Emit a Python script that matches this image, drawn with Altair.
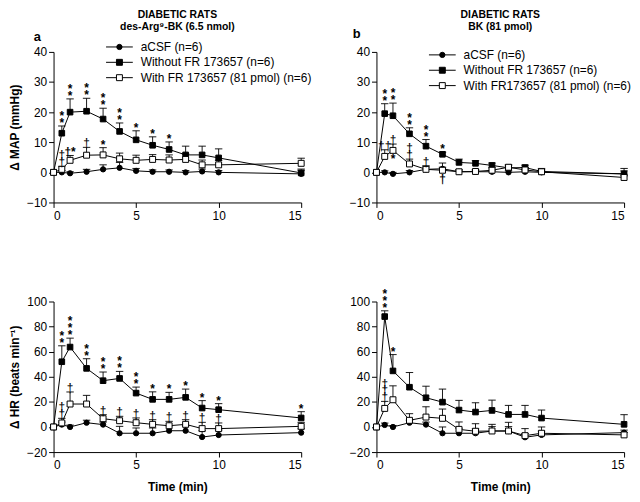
import altair as alt
import pandas as pd

FONT = "Liberation Sans"

TIMES = [0, 0.5, 1, 2, 3, 4, 5, 6, 7, 8, 9, 10, 15]
KEYS = ["acsf", "without", "with"]

# ---- panel a: MAP, des-Arg9-BK ----
acsf_a = [0, 0, -0.3, 0.2, 1.0, 1.5, 0.5, 0.2, 0.2, 0, 0.3, 0, -0.5]
acsf_a_err = [0, 0.6, 0.5, 0.8, 1.5, 1.8, 0.8, 0.6, 0.6, 0.6, 0.8, 0.6, 1.2]
without_a = [0, 13.0, 20.0, 20.3, 17.7, 13.6, 10.8, 9.0, 7.6, 5.8, 5.8, 4.8, -0.2]
without_a_err = [0, 2.4, 4.4, 4.3, 3.6, 2.8, 3.0, 2.8, 2.5, 2.9, 2.9, 3.0, 1.3]
with_a = [0, 1.0, 4.0, 5.7, 5.8, 4.5, 4.0, 4.3, 4.1, 4.3, 2.5, 2.5, 3.0]
with_a_err = [0, 1.0, 1.6, 2.6, 2.4, 1.9, 1.7, 1.6, 1.7, 1.8, 1.6, 1.5, 1.7]

# ---- panel b: MAP, BK ----
acsf_b = [0, 0, -0.5, 0, 1.0, 1.2, 0.2, 0.2, 0.2, 0, 0.2, 0, -0.5]
acsf_b_err = [0, 0.5, 0.5, 0.6, 0.8, 1.9, 0.6, 0.5, 0.5, 0.5, 0.6, 0.5, 1.0]
without_b = [0, 19.5, 18.8, 12.8, 8.7, 6.0, 3.3, 3.0, 2.3, 1.5, 1.6, 0.3, -0.5]
without_b_err = [0, 3.3, 4.2, 2.0, 2.2, 0.7, 1.1, 0.9, 0.8, 0.9, 0.8, 1.0, 1.8]
with_b = [0, 5.3, 7.3, 2.8, 1.0, 0.7, 0.2, 0.3, 0.7, 1.7, 0.8, 0.2, -1.7]
with_b_err = [0, 2.2, 2.1, 1.6, 1.2, 1.0, 0.6, 0.6, 0.8, 0.8, 0.8, 0.7, 0.8]

# ---- panel c: HR, des-Arg9-BK ----
acsf_c = [0, 1.9, 0, 3.4, 1.9, -5, -5, -5, -3, -3, -8, -6.4, -4.5]
acsf_c_err = [0, 2, 1.5, 2, 2, 5.5, 4.2, 4.2, 4, 4, 5, 4, 3]
without_c = [0, 52, 63.7, 46.7, 36.9, 38.7, 27, 22, 22, 23.6, 15.1, 13.8, 7.2]
without_c_err = [0, 12.7, 7.1, 7.7, 6.9, 5.6, 4.8, 6, 5.6, 6.6, 5.9, 4.8, 5]
with_c = [0, 3.2, 18.3, 18.3, 6.6, 5, 3.4, 2.1, 1, 2.1, -1.3, -1.3, 0.5]
with_c_err = [0, 3.7, 9.6, 6.9, 3.2, 3.5, 3.8, 3.7, 3.5, 3.7, 5, 4.5, 3.2]

# ---- panel d: HR, BK ----
acsf_d = [0, 1.6, 0, 3.4, 1.9, -5, -5, -5, -3.2, -3.2, -8.2, -6.3, -4.5]
acsf_d_err = [0, 1.5, 1.2, 2, 2, 5, 4, 3.5, 3.5, 3.5, 3, 3, 2]
without_d = [0, 88, 44.7, 31.7, 23.3, 19.8, 13.5, 11.9, 13.2, 10, 10, 7.1, 2.1]
without_d_err = [0, 4.6, 13, 11.7, 9.2, 10.4, 7.7, 7.4, 8.2, 7.2, 7.2, 6.4, 7.7]
with_d = [0, 14.8, 21.7, 5.3, 7.9, 6.9, -1.9, -3.4, -3.2, -3.2, -6.9, -5, -6.3]
with_d_err = [0, 5.6, 11.1, 5.3, 8.2, 7.4, 5.9, 6, 5.3, 6.9, 5.6, 5, 2]

# significance marks: (time, series, stacked symbols bottom-to-top, where)
ann_a = [(0.5, "without", "**", "above"), (1, "without", "**", "above"),
         (2, "without", "**", "above"), (3, "without", "**", "above"),
         (4, "without", "**", "above"), (5, "without", "*", "above"),
         (6, "without", "*", "above"), (7, "without", "*", "above"),
         (0.5, "with", "††", "above"), (1, "with", ["†*"], "above"),
         (2, "with", "†", "above"), (3, "with", "*", "above")]
ann_b = [(0.5, "without", "**", "above"), (1, "without", "**", "above"),
         (2, "without", "**", "above"), (3, "without", "**", "above"),
         (4, "without", "*", "above"),
         (0.5, "with", ["††"], "above"), (1, "with", "†", "above"),
         (1, "with", "*", "below"), (2, "with", "††", "above"),
         (3, "with", "†", "above"), (4, "with", "†", "below")]
ann_c = [(0.5, "without", "**", "above"), (1, "without", "***", "above"),
         (2, "without", "**", "above"), (3, "without", "**", "above"),
         (4, "without", "**", "above"), (5, "without", "**", "above"),
         (6, "without", "*", "above"), (7, "without", "*", "above"),
         (8, "without", "*", "above"), (9, "without", "*", "above"),
         (10, "without", "*", "above"), (15, "without", "*", "above"),
         (0.5, "with", "††", "above"), (1, "with", "†", "above"),
         (3, "with", "†", "above"), (4, "with", "†", "above"),
         (5, "with", "†", "above"), (6, "with", "†", "above"),
         (7, "with", "†", "above"), (8, "with", "†", "above"),
         (9, "with", "†", "above"), (10, "with", "†", "above")]
ann_d = [(0.5, "without", "***", "above"), (1, "without", "*", "above"),
         (0.5, "with", "†††", "above")]

LEGEND_A = ["aCSF (n=6)", "Without FR 173657 (n=6)", "With FR 173657 (81 pmol) (n=6)"]
LEGEND_B = ["aCSF (n=6)", "Without FR 173657 (n=6)", "With FR173657 (81 pmol) (n=6)"]
TITLE_A = ["DIABETIC RATS", "des-Arg⁹-BK (6.5 nmol)"]
TITLE_B = ["DIABETIC RATS", "BK (81 pmol)"]

SHAPES = {"acsf": "circle", "without": "square", "with": "square"}
FILLS = {"acsf": "black", "without": "black", "with": "white"}
SIZES = {"acsf": 28, "without": 36, "with": 36}

PLOT_W, PLOT_H = 250, 152
STACK_PX = 7.0


def make_df(series):
    rows = []
    for key, (m, e) in zip(KEYS, series):
        for t, v, er in zip(TIMES, m, e):
            rows.append(dict(t=t, v=v, hi=v + er, err=er, key=key))
    return pd.DataFrame(rows)


def make_ann(df, ann, ydom):
    per_px = (ydom[1] - ydom[0]) / PLOT_H
    rows = []
    for t, key, symbols, where in ann:
        r = df[(df.t == t) & (df.key == key)].iloc[0]
        parts = list(symbols) if isinstance(symbols, str) else symbols
        for k, s in enumerate(parts):
            if where == "above":
                y = r.hi + k * STACK_PX * per_px
            else:
                y = r.v - k * STACK_PX * per_px
            rows.append(dict(t=t, ya=y, label=s, where=where))
    return pd.DataFrame(rows)


def panel(series, ann, ydom, yvals, ytitle, xtitle, title, letter,
          legend_labels, legend_y0, letter_xy):
    df = make_df(series)
    adf = make_ann(df, ann, ydom)
    xs = alt.Scale(domain=[0, 15], nice=False, zero=False)
    ys = alt.Scale(domain=ydom, nice=False, zero=False)
    xax = alt.Axis(values=[0, 5, 10, 15], title=xtitle)
    yax = alt.Axis(values=yvals, title=ytitle)

    def X(f):
        return alt.X(f, scale=xs, axis=xax)

    def Y(f):
        return alt.Y(f, scale=ys, axis=yax)

    base = alt.Chart(df)
    line = base.mark_line(color="black", strokeWidth=1).encode(
        x=X("t:Q"), y=Y("v:Q"), detail="key:N")
    eb = base.transform_filter("datum.err > 0")
    err = eb.mark_rule(color="black", strokeWidth=0.9).encode(
        x=X("t:Q"), y=Y("v:Q"), y2="hi:Q")
    cap = eb.mark_point(shape="M-1,0H1", size=56, stroke="black",
                        strokeWidth=0.9, filled=False, opacity=1).encode(
        x=X("t:Q"), y=Y("hi:Q"))
    pts = base.mark_point(filled=True, stroke="black", strokeWidth=1, opacity=1).encode(
        x=X("t:Q"), y=Y("v:Q"),
        shape=alt.Shape("key:N", scale=alt.Scale(domain=KEYS, range=[SHAPES[k] for k in KEYS]), legend=None),
        fill=alt.Fill("key:N", scale=alt.Scale(domain=KEYS, range=[FILLS[k] for k in KEYS]), legend=None),
        size=alt.Size("key:N", scale=alt.Scale(domain=KEYS, range=[SIZES[k] for k in KEYS]), legend=None),
    )
    abase = alt.Chart(adf)
    star = abase.transform_filter("datum.where == 'above' && indexof(datum.label, '*') >= 0").mark_text(
        font=FONT, fontSize=12, fontWeight="bold", baseline="bottom", dy=4, fill="black").encode(
        x=X("t:Q"), y=Y("ya:Q"), text="label:N")
    dag = abase.transform_filter("datum.where == 'above' && indexof(datum.label, '*') < 0").mark_text(
        font=FONT, fontSize=12, baseline="bottom", dy=3, fill="black").encode(
        x=X("t:Q"), y=Y("ya:Q"), text="label:N")
    below = abase.transform_filter("datum.where == 'below'").mark_text(
        font=FONT, fontSize=12, fontWeight="bold", baseline="top", dy=4, fill="black").encode(
        x=X("t:Q"), y=Y("ya:Q"), text="label:N")
    layers = [line, err, cap, pts, star, dag, below]

    one = alt.Chart(pd.DataFrame({"z": [0]}))
    if legend_labels:
        for i, (k, lab) in enumerate(zip(KEYS, legend_labels)):
            yy = legend_y0 + i * 15.5
            layers.append(one.mark_rule(color="black", strokeWidth=1).encode(
                x=alt.value(53), x2=alt.value(80), y=alt.value(yy)))
            layers.append(one.mark_point(shape=SHAPES[k], fill=FILLS[k], filled=True,
                                         stroke="black", strokeWidth=1, size=SIZES[k],
                                         opacity=1).encode(
                x=alt.value(66.5), y=alt.value(yy)))
            layers.append(one.mark_text(text=lab, font=FONT, fontSize=12, align="left",
                                        baseline="middle", fill="black").encode(
                x=alt.value(88), y=alt.value(yy)))
    if title:
        for j, tline in enumerate(title):
            layers.append(one.mark_text(text=tline, font=FONT, fontSize=10.5, fontWeight="bold",
                                        align="center", baseline="alphabetic", fill="black").encode(
                x=alt.value(125), y=alt.value(-34 + j * 11.5)))
    if letter:
        layers.append(one.mark_text(text=letter, font=FONT, fontSize=13, fontWeight="bold",
                                    align="left", baseline="alphabetic", fill="black").encode(
            x=alt.value(letter_xy[0]), y=alt.value(letter_xy[1])))
    return alt.layer(*layers).properties(width=PLOT_W, height=PLOT_H)


pa = panel([(acsf_a, acsf_a_err), (without_a, without_a_err), (with_a, with_a_err)], ann_a,
           [-10, 40], [-10, 0, 10, 20, 30, 40], "Δ MAP (mmHg)", None,
           TITLE_A, "a", LEGEND_A, -5, (-20, -11))
pb = panel([(acsf_b, acsf_b_err), (without_b, without_b_err), (with_b, with_b_err)], ann_b,
           [-10, 40], [-10, 0, 10, 20, 30, 40], None, None,
           TITLE_B, "b", LEGEND_B, 3, (-24, -14))
pc = panel([(acsf_c, acsf_c_err), (without_c, without_c_err), (with_c, with_c_err)], ann_c,
           [-20, 100], [-20, 0, 20, 40, 60, 80, 100], "Δ HR (beats min⁻¹)", "Time (min)",
           None, None, None, 0, None)
pd_ = panel([(acsf_d, acsf_d_err), (without_d, without_d_err), (with_d, with_d_err)], ann_d,
            [-20, 100], [-20, 0, 20, 40, 60, 80, 100], None, "Time (min)",
            None, None, None, 0, None)

chart = alt.concat(pa, pb, pc, pd_, columns=2, bounds="flush",
                   spacing={"row": 100, "column": 76}).properties(
    padding={"left": 0, "top": 0, "right": 0, "bottom": 0}
).configure_view(stroke=None).configure_axis(
    grid=False, domainColor="black", tickColor="black", labelColor="black",
    titleColor="black", labelFont=FONT, titleFont=FONT, labelFontSize=12,
    titleFontSize=12, titleFontWeight="bold", tickSize=5, domainWidth=1, tickWidth=1,
    labelPadding=2, titlePadding=5
).configure_axisX(labelPadding=3, titlePadding=11)

chart.save("out.html", embed_options={"renderer": "svg", "actions": False})
